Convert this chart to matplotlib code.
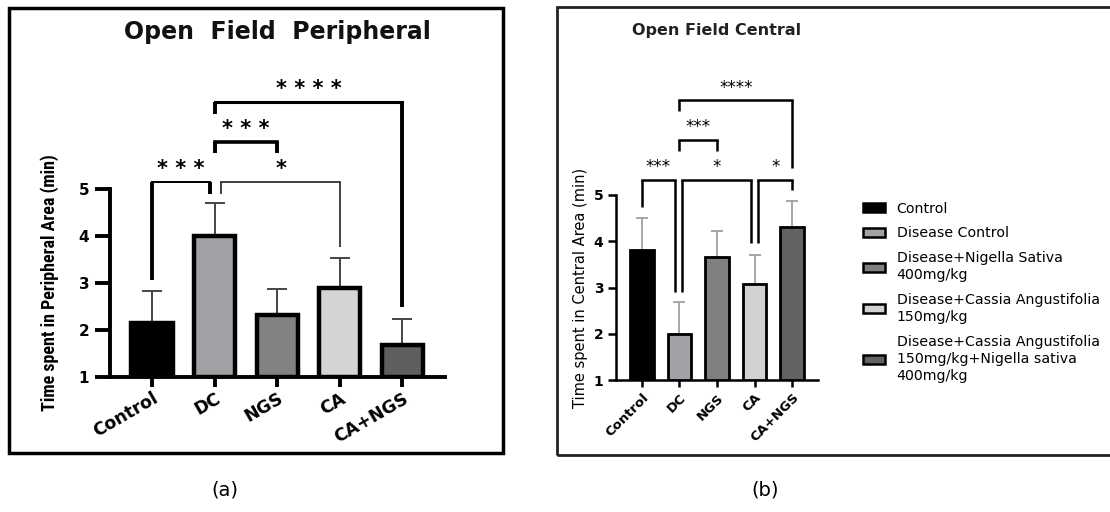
import numpy as np
import matplotlib.pyplot as plt
from matplotlib.patches import Rectangle, Patch

# group labels and legend names
groups = ["Control", "DC", "NGS", "CA", "CA+NGS"]
legend_names = [
    "Control",
    "Disease Control",
    "Disease+Nigella Sativa\n400mg/kg",
    "Disease+Cassia Angustifolia\n150mg/kg",
    "Disease+Cassia Angustifolia\n150mg/kg+Nigella sativa\n400mg/kg",
]

# (a) peripheral area, mean and SD (min)
peripheral_mean = [2.15, 4.0, 2.32, 2.9, 1.68]
peripheral_sd = [0.67, 0.70, 0.55, 0.63, 0.55]

# (b) central area, mean and SD (min)
central_mean = [3.82, 2.0, 3.66, 3.07, 4.30]
central_sd = [0.69, 0.69, 0.57, 0.64, 0.58]

colors_a = ["#000000", "#a1a1a5", "#828282", "#d4d4d4", "#5f5f5f"]
colors_b = ["#000000", "#a2a2a6", "#808080", "#d2d2d2", "#626262"]

# significance: (left group, right group, stars)
peripheral_tests = [(0, 1, "* * *"), (1, 3, "*"), (1, 2, "* * *"), (1, 4, "* * * *")]
central_tests = [(0, 1, "***"), (1, 3, "*"), (3, 4, "*"), (1, 2, "***"), (1, 4, "****")]

W, H = 1110, 512
fig = plt.figure(figsize=(W / 100, H / 100), dpi=100)


def px_axes(left, right, top, bottom):
    return fig.add_axes([left / W, 1 - bottom / H, (right - left) / W, (bottom - top) / H])


# outer boxes
fig.patches.append(Rectangle((9 / W, 1 - 453 / H), 494 / W, 445 / H, transform=fig.transFigure,
                             fill=False, lw=2.5, ec="black"))
fig.patches.append(Rectangle((557 / W, 1 - 455 / H), 560 / W, 448 / H, transform=fig.transFigure,
                             fill=False, lw=2.0, ec="#222222"))


def bracket(ax, x1, x2, y, y1, y2, text, ty, lw, legw, fs, weight, color="black"):
    ax.plot([x1, x2], [y, y], color=color, lw=lw, clip_on=False, solid_capstyle="projecting")
    ax.plot([x1, x1], [y1, y], color=color, lw=legw, clip_on=False, solid_capstyle="butt")
    ax.plot([x2, x2], [y2, y], color=color, lw=legw, clip_on=False, solid_capstyle="butt")
    ax.text((x1 + x2) / 2, ty, text, ha="center", va="center", fontsize=fs,
            fontweight=weight, clip_on=False)


x = np.arange(len(groups))

# ---------------- (a) ----------------
ax = px_axes(110, 445, 189, 377)
ax.bar(x, np.array(peripheral_mean) - 1, bottom=1, width=0.66, color=colors_a,
       edgecolor="black", linewidth=3.2, zorder=3)
ax.errorbar(x, peripheral_mean, yerr=[np.zeros(5), peripheral_sd], fmt="none",
            ecolor="#444444", elinewidth=1.4, capsize=7, capthick=1.4, zorder=2)
ax.set_xlim(-0.67, 4.68)
ax.set_ylim(1, 5)
ax.set_yticks([1, 2, 3, 4, 5])
ax.set_xticks(x)
ax.set_xticklabels(groups, rotation=30, ha="right", rotation_mode="anchor",
                   fontsize=12.5, fontweight="bold")
ax.set_yticklabels(["1", "2", "3", "4", "5"], fontsize=11, fontweight="bold")
ax.tick_params(axis="y", length=11, width=2.8, pad=4)
ax.tick_params(axis="x", length=7, width=2.8, pad=2)
for s in ["top", "right"]:
    ax.spines[s].set_visible(False)
for s in ["left", "bottom"]:
    ax.spines[s].set_linewidth(2.8)

bracket(ax, 0, 0.92, 5.15, 3.06, 4.9, peripheral_tests[0][2], 5.42, 1.4, 2.8, 15, "bold")
bracket(ax, 1.11, 3, 5.15, 4.9, 3.77, peripheral_tests[1][2], 5.42, 1.3, 1.3, 15, "bold",
        color="#333333")
bracket(ax, 1, 2, 6.0, 5.77, 5.77, peripheral_tests[2][2], 6.27, 2.6, 2.8, 15, "bold")
bracket(ax, 1, 4, 6.85, 6.6, 2.49, peripheral_tests[3][2], 7.12, 2.2, 2.8, 15, "bold")

fig.text(50 / W, 1 - 283 / H, "Time spent in Peripheral Area (min)", rotation=90,
         ha="center", va="center", fontsize=13, fontweight="bold",
         family=["Roboto Condensed", "Liberation Sans Narrow", "Liberation Sans"])
fig.text(277 / W, 1 - 32 / H, "Open  Field  Peripheral", ha="center", va="center",
         fontsize=17, fontweight="bold", color="#111111")

# ---------------- (b) ----------------
ax2 = px_axes(616, 818, 195, 380)
ax2.bar(x, np.array(central_mean) - 1, bottom=1, width=0.62, color=colors_b,
        edgecolor="black", linewidth=2.0, zorder=3)
ax2.errorbar(x, central_mean, yerr=[np.zeros(5), central_sd], fmt="none",
             ecolor="#a0a0a0", elinewidth=1.3, capsize=4.5, capthick=1.3, zorder=2)
ax2.set_xlim(-0.69, 4.69)
ax2.set_ylim(1, 5)
ax2.set_yticks([1, 2, 3, 4, 5])
ax2.set_xticks(x)
ax2.set_xticklabels(groups, rotation=45, ha="right", rotation_mode="anchor",
                    fontsize=9.5, fontweight="bold")
ax2.set_yticklabels(["1", "2", "3", "4", "5"], fontsize=10, fontweight="bold")
ax2.tick_params(axis="y", length=6, width=1.8, pad=3)
ax2.tick_params(axis="x", length=5, width=1.8, pad=3)
for s in ["top", "right"]:
    ax2.spines[s].set_visible(False)
for s in ["left", "bottom"]:
    ax2.spines[s].set_linewidth(1.8)

bracket(ax2, 0, 0.87, 5.33, 4.75, 2.9, central_tests[0][2], 5.6, 1.8, 1.8, 12, "normal")
bracket(ax2, 1.08, 2.9, 5.33, 2.9, 3.96, central_tests[1][2], 5.6, 1.8, 1.8, 12, "normal")
bracket(ax2, 3.1, 4, 5.33, 3.96, 5.11, central_tests[2][2], 5.6, 1.8, 1.8, 12, "normal")
bracket(ax2, 1, 2, 6.19, 5.95, 5.95, central_tests[3][2], 6.48, 1.8, 1.8, 12, "normal")
bracket(ax2, 1, 4, 7.06, 6.82, 5.59, central_tests[4][2], 7.32, 1.8, 1.8, 12, "normal")

fig.text(580 / W, 1 - 288 / H, "Time spent in Central Area (min)", rotation=90,
         ha="center", va="center", fontsize=10.5)
fig.text(717 / W, 1 - 31 / H, "Open Field Central", ha="center", va="center",
         fontsize=11.5, fontweight="bold", color="#222222")

handles = [Patch(facecolor=c, edgecolor="black", linewidth=1.8) for c in colors_b]
leg = fig.legend(handles, legend_names, loc="upper left", bbox_to_anchor=(857 / W, 1 - 196 / H),
                 frameon=False, fontsize=10.2, handlelength=1.6, handleheight=0.6,
                 handletextpad=0.8, labelspacing=0.75, borderaxespad=0)
for t in leg.get_texts():
    t.set_linespacing(1.3)

# panel letters
fig.text(225 / W, 1 - 490 / H, "(a)", ha="center", va="center", fontsize=14)
fig.text(765 / W, 1 - 490 / H, "(b)", ha="center", va="center", fontsize=14)

fig.savefig("out.png", dpi=100, facecolor="white")
